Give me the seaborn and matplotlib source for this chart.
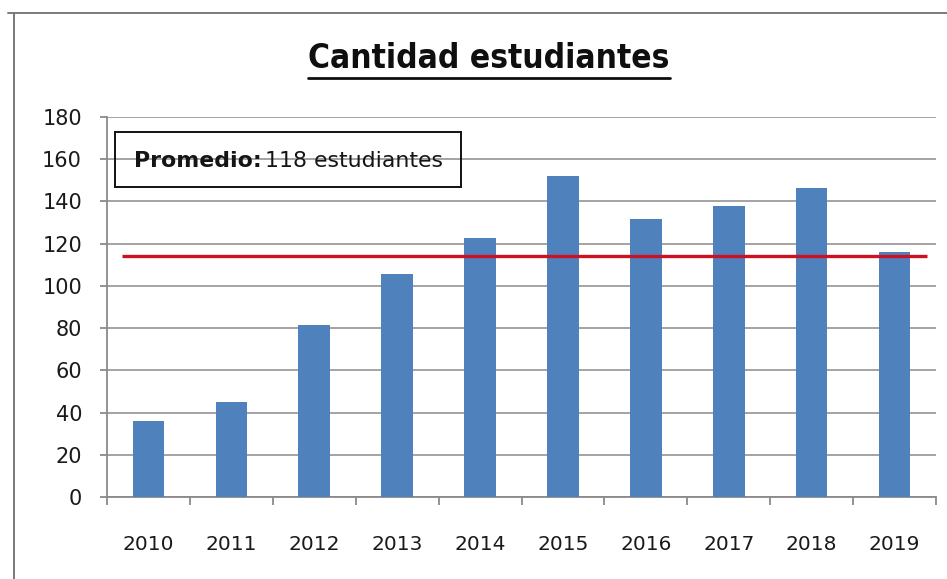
import matplotlib
matplotlib.use("Agg")
import matplotlib.pyplot as plt
import seaborn as sns
import pandas as pd
from matplotlib.lines import Line2D
from matplotlib.patches import Rectangle

years = ["2010", "2011", "2012", "2013", "2014", "2015", "2016", "2017", "2018", "2019"]
students = [36, 45, 81.5, 105.5, 122.5, 152, 131.5, 138, 146.5, 116]
promedio_line = [114, 114]
y_ticks = [0, 20, 40, 60, 80, 100, 120, 140, 160, 180]
title = "Cantidad estudiantes"
box_bold = "Promedio:"
box_text = "118 estudiantes"

sns.set_style("white")
plt.rcParams["font.family"] = ["DejaVu Sans"]

W, H = 947, 579
fig = plt.figure(figsize=(W / 100, H / 100), dpi=100)
fig.patch.set_facecolor("white")

def fx(px):
    return px / W

def fy(py):
    return 1 - py / H

ax = fig.add_axes([fx(107), fy(497.3), fx(936) - fx(107), fy(116.7) - fy(497.3)])

df = pd.DataFrame({"year": years, "students": students})
sns.barplot(data=df, x="year", y="students", color="#4F81BD", saturation=1,
            width=0.38, ax=ax, zorder=3, edgecolor="none")

ax.set_xlim(-0.5, len(years) - 0.5)
ax.set_ylim(0, 180)
ax.set_yticks(y_ticks)
ax.set_xlabel("")
ax.set_ylabel("")

grid_c = "#8a8a8a"
ax.yaxis.grid(True, color=grid_c, linewidth=1.1, zorder=0)
ax.xaxis.grid(False)
for s in ["top", "right"]:
    ax.spines[s].set_visible(False)
for s in ["left", "bottom"]:
    ax.spines[s].set_visible(True)
    ax.spines[s].set_color(grid_c)
    ax.spines[s].set_linewidth(1.3)
ax.set_axisbelow(True)

# x ticks at category boundaries
ax.set_xticks([i - 0.5 for i in range(len(years) + 1)], minor=True)
ax.tick_params(axis="x", which="minor", length=6, width=1.3, color=grid_c, direction="out", bottom=True)
ax.tick_params(axis="x", which="major", length=0, pad=27, labelsize=14.5, labelcolor="#1a1a1a")
ax.tick_params(axis="y", which="major", length=5, width=1.3, color=grid_c, direction="out",
               left=True, pad=13, labelsize=15, labelcolor="#1a1a1a")

# average line
ax.plot([-0.32, 9.39], promedio_line, color="#CC1122", linewidth=2.4, zorder=4, solid_capstyle="butt")

# annotation box
fig.patches.append(Rectangle((fx(115), fy(187)), fx(461) - fx(115), fy(132) - fy(187),
                             transform=fig.transFigure, fill=False, edgecolor="#111111",
                             linewidth=1.4, zorder=5))
box_font = ["DejaVu Sans"]
t1 = fig.text(fx(134), fy(161), box_bold, fontsize=15.8, fontweight="bold", family=box_font,
              color="#151515", ha="left", va="center", zorder=6)
fig.canvas.draw()
b1 = t1.get_window_extent(renderer=fig.canvas.get_renderer())
fig.text((b1.x1 + 3) / W, fy(161), box_text, fontsize=15.8, family=box_font,
         color="#151515", ha="left", va="center", zorder=6)

# title with underline
tt = fig.text(fx(489), fy(59), title, fontsize=24, fontweight="bold", fontstretch="condensed",
              family=["DejaVu Sans"], color="#0f0f0f",
              ha="center", va="center")
fig.canvas.draw()
bb = tt.get_window_extent(renderer=fig.canvas.get_renderer())
fig.add_artist(Line2D([bb.x0 / W, bb.x1 / W], [fy(78), fy(78)], transform=fig.transFigure,
                      color="#0f0f0f", linewidth=2))

# outer chart border
fig.add_artist(Line2D([fx(8), 1.0], [fy(13), fy(13)], transform=fig.transFigure,
                      color="#7a7a7a", linewidth=1.4))
fig.add_artist(Line2D([fx(14), fx(14)], [0, fy(13)], transform=fig.transFigure,
                      color="#7a7a7a", linewidth=1.4))

fig.savefig("out.png", dpi=100, facecolor="white")
